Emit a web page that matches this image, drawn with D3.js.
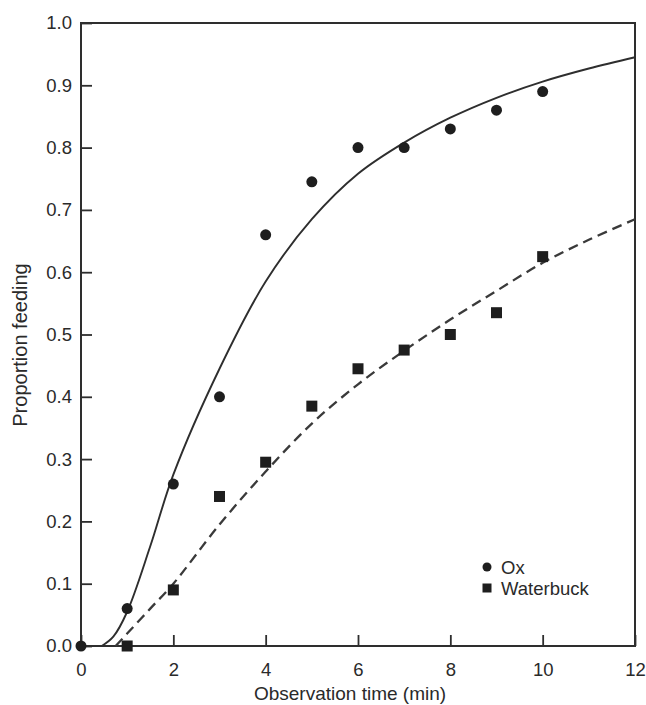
<!DOCTYPE html>
<html>
<head>
<meta charset="utf-8">
<script src="https://cdn.jsdelivr.net/npm/d3@7"></script>
<style>
  html, body { margin: 0; padding: 0; background: #fff; }
  svg { display: block; }
  text { font-family: "Liberation Sans", Arial, Helvetica, sans-serif; fill: #2a2a2a; }
</style>
</head>
<body>
<svg id="chart" width="646" height="705"></svg>
<script>
// Observed proportions feeding at each observation time
const obsTime = [0, 1, 2, 3, 4, 5, 6, 7, 8, 9, 10];
const oxObserved = [0.0, 0.06, 0.26, 0.40, 0.66, 0.745, 0.80, 0.80, 0.83, 0.86, 0.89];
const wbTime = [1, 2, 3, 4, 5, 6, 7, 8, 9, 10];
const waterbuckObserved = [0.0, 0.09, 0.24, 0.295, 0.385, 0.445, 0.475, 0.50, 0.535, 0.625];

// Fitted curves
const oxFitTime = [0.45, 0.7, 1.0, 1.5, 2, 3, 4, 5, 6, 7, 8, 9, 10, 11, 12];
const oxFit = [0.0, 0.015, 0.055, 0.16, 0.275, 0.445, 0.585, 0.685, 0.758, 0.808, 0.848, 0.88, 0.906, 0.927, 0.945];
const wbFitTime = [0.75, 1, 1.5, 2, 3, 4, 5, 6, 7, 8, 9, 10, 11, 12];
const wbFit = [0.0, 0.02, 0.06, 0.10, 0.195, 0.28, 0.357, 0.42, 0.474, 0.524, 0.57, 0.615, 0.652, 0.685];

const xTicks = [0, 2, 4, 6, 8, 10, 12];
const yTicks = [0, 0.1, 0.2, 0.3, 0.4, 0.5, 0.6, 0.7, 0.8, 0.9, 1.0];
const seriesNames = ["Ox", "Waterbuck"];

const svg = d3.select("#chart");
const x = d3.scaleLinear().domain([0, 12]).range([81, 635]);
const y = d3.scaleLinear().domain([0, 1]).range([646, 23]);
const ink = "#2e2e2e";
const fontSize = 18.5;

// Axes with inward ticks
const xAxis = svg.append("g")
  .attr("transform", `translate(0,${y(0)})`)
  .call(d3.axisBottom(x).tickValues(xTicks).tickFormat(d3.format("d"))
    .tickSizeInner(-11).tickSizeOuter(0).tickPadding(12));
const yAxis = svg.append("g")
  .attr("transform", `translate(${x(0)},0)`)
  .call(d3.axisLeft(y).tickValues(yTicks).tickFormat(d3.format(".1f"))
    .tickSizeInner(-11).tickSizeOuter(0).tickPadding(9));

[xAxis, yAxis].forEach(g => {
  g.select(".domain").remove();
  g.selectAll(".tick line").attr("stroke", ink).attr("stroke-width", 1.8);
  g.selectAll(".tick text").attr("font-size", fontSize).attr("fill", "#2a2a2a")
    .style("font-family", '"Liberation Sans", Arial, Helvetica, sans-serif');
});
xAxis.selectAll(".tick text").attr("dy", "0.95em");

// Frame
svg.append("rect")
  .attr("x", x(0)).attr("y", y(1))
  .attr("width", x(12) - x(0)).attr("height", y(0) - y(1))
  .attr("fill", "none").attr("stroke", ink).attr("stroke-width", 2);

// Fitted curves
const line = d3.line().x(d => x(d[0])).y(d => y(d[1])).curve(d3.curveCatmullRom.alpha(0.5));
svg.append("path")
  .datum(oxFitTime.map((t, i) => [t, oxFit[i]]))
  .attr("d", line).attr("fill", "none")
  .attr("stroke", ink).attr("stroke-width", 1.9);
svg.append("path")
  .datum(wbFitTime.map((t, i) => [t, wbFit[i]]))
  .attr("d", line).attr("fill", "none")
  .attr("stroke", "#3a3a3a").attr("stroke-width", 2.3)
  .attr("stroke-dasharray", "10,6");

// Observed points
const r = 5.5, s = 11;
svg.append("g").selectAll("circle")
  .data(obsTime.map((t, i) => [t, oxObserved[i]]))
  .join("circle")
  .attr("cx", d => x(d[0])).attr("cy", d => y(d[1])).attr("r", r)
  .attr("fill", "#1e1e1e");
svg.append("g").selectAll("rect")
  .data(wbTime.map((t, i) => [t, waterbuckObserved[i]]))
  .join("rect")
  .attr("x", d => x(d[0]) - s / 2).attr("y", d => y(d[1]) - s / 2)
  .attr("width", s).attr("height", s)
  .attr("fill", "#1e1e1e");

// Legend
const lg = svg.append("g").attr("transform", "translate(487,567)");
lg.append("circle").attr("cx", 0).attr("cy", 0).attr("r", 4.5).attr("fill", "#1e1e1e");
lg.append("rect").attr("x", -4.5).attr("y", 16.5).attr("width", 9).attr("height", 9).attr("fill", "#1e1e1e");
lg.selectAll("text").data(seriesNames).join("text")
  .attr("x", 14).attr("y", (d, i) => i * 21 + 6.5)
  .attr("font-size", fontSize).text(d => d);

// Axis titles
svg.append("text")
  .attr("x", (x(0) + x(12)) / 2 - 8).attr("y", 700)
  .attr("text-anchor", "middle").attr("font-size", 19)
  .text("Observation time (min)");
svg.append("text")
  .attr("transform", "translate(27,345) rotate(-90)")
  .attr("text-anchor", "middle").attr("font-size", 20)
  .text("Proportion feeding");
</script>
</body>
</html>
